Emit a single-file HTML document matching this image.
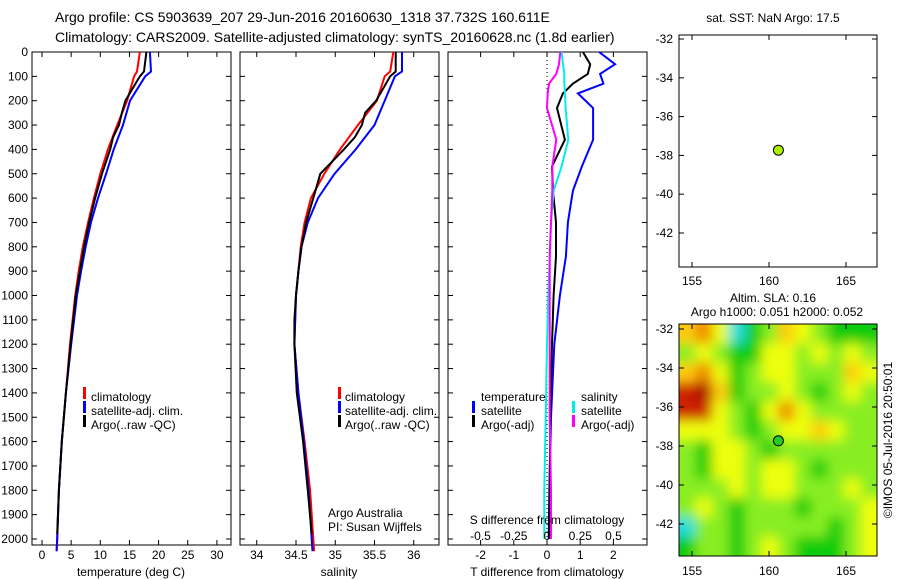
<!DOCTYPE html>
<html><head><meta charset="utf-8">
<style>
html,body{margin:0;padding:0;background:#fff;}
svg{display:block;font-family:"Liberation Sans",sans-serif;}
text{font-size:12px;fill:#000;}
</style></head>
<body>
<svg id="fig" width="900" height="580" viewBox="0 0 900 580">
<defs>
<filter id="blur" x="-10%" y="-10%" width="120%" height="120%"><feGaussianBlur stdDeviation="6"/></filter>
<clipPath id="mapclip"><rect x="679" y="324" width="198" height="232"/></clipPath>
</defs>
<text x="55" y="22" style="font-size:14px">Argo profile: CS 5903639_207 29-Jun-2016 20160630_1318 37.732S 160.611E</text>
<text x="55" y="42" style="font-size:14px">Climatology: CARS2009. Satellite-adjusted climatology: synTS_20160628.nc (1.8d earlier)</text>
<g id="g"></g>
</svg>
<script>
// ---- data ----
const depthTicks=[0,100,200,300,400,500,600,700,800,900,1000,1100,1200,1300,1400,1500,1600,1700,1800,1900,2000];
const tTicks=[0,5,10,15,20,25,30];
const sTicks=[34,34.5,35,35.5,36];
const dtTicks=[-2,-1,0,1,2];
const dsTicks=[-0.5,-0.25,0,0.25,0.5];
const dsTickLabels=["-0.5","-0.25","0","0.25","0.5"];
const tDepth=[0,80,100,200,300,400,500,600,700,800,900,1000,1200,1400,1600,1800,2000,2050];
const tClim=[16.8,16.3,15.8,14.6,12.9,11.3,10,8.9,7.9,7.0,6.3,5.7,4.8,4.1,3.4,2.9,2.6,2.5];
const tSat=[18.5,18.7,17.7,15.1,13.9,12.3,11,9.6,8.4,7.5,6.7,6.0,5.0,4.1,3.4,2.9,2.6,2.5];
const tArgoDepth=[0,80,100,200,250,300,350,400,500,600,700,800,900,1000,1200,1400,1600,1800,1980];
const tArgo=[17.9,17.5,16.8,14.3,13.7,13.2,12.2,11.7,10.3,9.1,8.1,7.2,6.5,5.8,4.9,4.1,3.4,2.9,2.6];
const sClim=[35.74,35.70,35.63,35.53,35.29,35.06,34.86,34.69,34.61,34.56,34.53,34.50,34.48,34.53,34.61,34.68,34.72,34.73];
const sDepthFull=[0,80,100,200,300,400,500,600,700,800,900,1000,1200,1400,1600,1800,2000,2050];
const sSat=[35.85,35.85,35.76,35.63,35.50,35.26,34.99,34.78,34.65,34.57,34.53,34.50,34.48,34.53,34.60,34.66,34.70,34.71];
const sArgoDepth=[0,80,100,200,250,300,350,400,500,600,700,800,900,1000,1100,1200,1400,1600,1800,1980];
const sArgo=[35.77,35.77,35.70,35.52,35.38,35.34,35.25,35.11,34.81,34.72,34.63,34.57,34.53,34.50,34.48,34.48,34.51,34.59,34.65,34.70];
const dDepth=[0,50,90,130,170,230,360,470,570,700,840,1000,1200,1500,1800,2000];
const dTSat=[1.57,2.05,1.6,1.7,0.93,1.39,1.39,1.05,0.78,0.63,0.57,0.39,0.22,0.12,0.07,0.05];
const dTArgo=[1.08,1.3,1.23,0.78,0.48,0.3,0.54,0.15,0.18,0.27,0.27,0.2,0.15,0.1,0.08,0.06];
const dSSat=[0.11,0.12,0.13,0.13,0.135,0.14,0.16,0.11,0.05,0.03,0.02,0.01,0,-0.01,-0.02,-0.02];
const dSArgo=[0.1,0.09,0.07,0.015,0.005,0,0.07,0.04,0.04,0.03,0.02,0.02,0.02,0.02,0.03,0.03];
const lonTicks=[155,160,165];
const latTicks=[-32,-34,-36,-38,-40,-42];
const argoLon=160.611, argoLat=-37.732;
const slaGrid=[
[4,5,3,0,1,2,4,3,2,1,1,1],
[2,3,2,1,1,3,3,2,3,2,3,2],
[4,5,3,1,2,3,3,2,2,2,4,3],
[6,7,4,1,2,2,3,2,1,2,3,2],
[6,6,3,2,1,3,5,3,2,2,2,2],
[3,3,3,2,1,2,3,3,4,3,2,2],
[2,1,3,3,2,1,2,2,2,2,2,2],
[2,1,3,3,2,3,3,2,1,2,2,2],
[2,2,2,3,2,3,3,2,2,2,3,2],
[2,3,2,1,2,2,2,1,2,2,2,3],
[0,2,2,1,2,2,2,2,2,1,2,3],
[1,2,2,1,2,3,2,1,1,1,2,3]];
const slaColors=["#22dddd","#11cc11","#88ee22","#eeff11","#ffcc11","#ee8800","#cc2200","#aa0000"];

// ---- helpers ----
const NS="http://www.w3.org/2000/svg";
const G=document.getElementById('g');
function el(tag,attrs,parent){const e=document.createElementNS(NS,tag);for(const k in attrs)e.setAttribute(k,attrs[k]);(parent||G).appendChild(e);return e;}
const Y=d=>52+d*0.2435;
const TOP=52,BOT=545;
const xT=t=>42+t*5.83;
const xS=s=>296+(s-34.5)*78.5;
const xDT=v=>547+v*33.2;
const xDS=v=>547+v*133;
const mx=lon=>692+(lon-155)*15.4;
const myTop=lat=>39+(-32-lat)*19.4;
const myBot=lat=>329+(-32-lat)*19.5;

function frame(x0,x1,name){
  const r=el('rect',{x:x0,y:TOP,width:x1-x0,height:BOT-TOP,fill:'none',stroke:'#000','stroke-width':1});
  
  
  depthTicks.forEach(d=>{el('line',{x1:x0,x2:x0+5,y1:Y(d),y2:Y(d),stroke:'#000'});el('line',{x1:x1,x2:x1-5,y1:Y(d),y2:Y(d),stroke:'#000'});});
}
function xticks(xs,vals,fn,x0,x1,labels,ly){
  vals.forEach((v,i)=>{const x=fn(v);
    el('line',{x1:x,x2:x,y1:BOT,y2:BOT-5,stroke:'#000'});
    el('line',{x1:x,x2:x,y1:TOP,y2:TOP+5,stroke:'#000'});
    const t=el('text',{x:x,y:ly,'text-anchor':'middle'});t.textContent=labels?labels[i]:String(v);
    
    
  });
}
function line(xs,ds,fx,color,name,w){
  const pts=xs.map((v,i)=>fx(v).toFixed(1)+','+Y(ds[i]).toFixed(1)).join(' ');
  const p=el('polyline',{points:pts,fill:'none',stroke:color,'stroke-width':w||2});
  
  
}
function label(x,y,txt,name,anchor){const t=el('text',{x:x,y:y,'text-anchor':anchor||'start'});t.textContent=txt;return t;}
function legBar(x,y,c){const r=el('rect',{x:x,y:y-10,width:3,height:12,fill:c});}

depthTicks.forEach(d=>{label(28,Y(d)+4,String(d),'y-tick-label','end');});

frame(32,231,'temperature-panel');
xticks(null,tTicks,xT,32,231,null,559);
label(131,576,'temperature (deg C)','x-axis-title-temperature','middle');
line(tClim,tDepth,xT,'#ff0000','temp-climatology-line');
line(tSat,tDepth,xT,'#0000ff','temp-satellite-line');
line(tArgo,tArgoDepth,xT,'#000000','temp-argo-line');
legBar(83,397,'#ff0000');label(91,401,'climatology','legend-climatology');
legBar(83,411,'#0000ff');label(91,415,'satellite-adj. clim.','legend-satellite');
legBar(83,425,'#000');label(91,429,'Argo(..raw -QC)','legend-argo');

frame(240,439,'salinity-panel');
xticks(null,sTicks,xS,240,439,null,559);
label(339,576,'salinity','x-axis-title-salinity','middle');
line(sClim,sDepthFull,xS,'#ff0000','sal-climatology-line');
line(sSat,sDepthFull,xS,'#0000ff','sal-satellite-line');
line(sArgo,sArgoDepth,xS,'#000000','sal-argo-line');
legBar(338,397,'#ff0000');label(345,401,'climatology','legend-climatology-2');
legBar(338,411,'#0000ff');label(345,415,'satellite-adj. clim.','legend-satellite-2');
legBar(338,425,'#000');label(345,429,'Argo(..raw -QC)','legend-argo-2');
label(328,517,'Argo Australia','credit-argo-australia');
label(328,531,'PI: Susan Wijffels','credit-pi');

frame(448,647,'difference-panel');
xticks(null,dtTicks,xDT,448,647,null,559);
el('line',{x1:547,x2:547,y1:TOP,y2:BOT,stroke:'#000','stroke-dasharray':'1,3'});
line(dTSat,dDepth,xDT,'#0000ff','dT-satellite-line');
line(dTArgo,dDepth,xDT,'#000000','dT-argo-line');
line(dSSat,dDepth,xDS,'#00eeee','dS-satellite-line');
line(dSArgo,dDepth,xDS,'#ff00ff','dS-argo-line');
dsTicks.forEach((v,i)=>{label(xDS(v),540,dsTickLabels[i],'ds-tick-label','middle');});
label(547,524,'S difference from climatology','ds-axis-title','middle');
label(547,576,'T difference from climatology','dt-axis-title','middle');
label(481,401,'temperature','legend-temperature-heading');
label(581,401,'salinity','legend-salinity-heading');
legBar(472,411,'#0000ff');label(481,415,'satellite','legend-t-satellite');
legBar(472,425,'#000');label(481,429,'Argo(-adj)','legend-t-argo');
legBar(572,411,'#00eeee');label(581,415,'satellite','legend-s-satellite');
legBar(572,425,'#ff00ff');label(581,429,'Argo(-adj)','legend-s-argo');

label(773,22,'sat. SST: NaN Argo: 17.5','sst-map-title','middle');
const tm=el('rect',{x:679,y:35,width:198,height:232,fill:'#fff',stroke:'#000'});


lonTicks.forEach(l=>{const x=mx(l);el('line',{x1:x,x2:x,y1:267,y2:262,stroke:'#000'});el('line',{x1:x,x2:x,y1:35,y2:40,stroke:'#000'});label(x,285,String(l),'sst-lon-label','middle');});
latTicks.forEach(l=>{const y=myTop(l);el('line',{x1:679,x2:684,y1:y,y2:y,stroke:'#000'});el('line',{x1:877,x2:872,y1:y,y2:y,stroke:'#000'});label(673,y+4,String(l),'sst-lat-label','end');});
const d1=el('circle',{cx:mx(argoLon),cy:myTop(argoLat),r:5,fill:'#aaee00',stroke:'#000'});



label(773,302,'Altim. SLA: 0.16','sla-map-title','middle');
label(777,316,'Argo h1000: 0.051 h2000: 0.052','sla-map-subtitle','middle');
const hm=el('g',{'clip-path':'url(#mapclip)'});
const hb=el('g',{filter:'url(#blur)'},hm);
const cw=198/12,ch=232/12;
slaGrid.forEach((row,r)=>row.forEach((v,c)=>{
  const cell=el('rect',{x:679+c*cw-(c==0?12:0),y:324+r*ch-(r==0?12:0),width:cw+(c==0||c==11?12:0)+0.5,height:ch+(r==0||r==11?12:0)+0.5,fill:slaColors[v]},hb);
  
  
}));
const bm=el('rect',{x:679,y:324,width:198,height:232,fill:'none',stroke:'#000'});


lonTicks.forEach(l=>{const x=mx(l);el('line',{x1:x,x2:x,y1:556,y2:551,stroke:'#000'});el('line',{x1:x,x2:x,y1:324,y2:329,stroke:'#000'});label(x,575,String(l),'sla-lon-label','middle');});
latTicks.forEach(l=>{const y=myBot(l);el('line',{x1:679,x2:684,y1:y,y2:y,stroke:'#000'});el('line',{x1:877,x2:872,y1:y,y2:y,stroke:'#000'});label(673,y+4,String(l),'sla-lat-label','end');});
const d2=el('circle',{cx:mx(argoLon),cy:myBot(argoLat),r:5,fill:'#22cc22',stroke:'#000'});


const ts=label(0,0,'©IMOS 05-Jul-2016 20:50:01','timestamp','middle');
ts.setAttribute('transform','translate(892,440) rotate(-90)');
</script>
</body></html>
